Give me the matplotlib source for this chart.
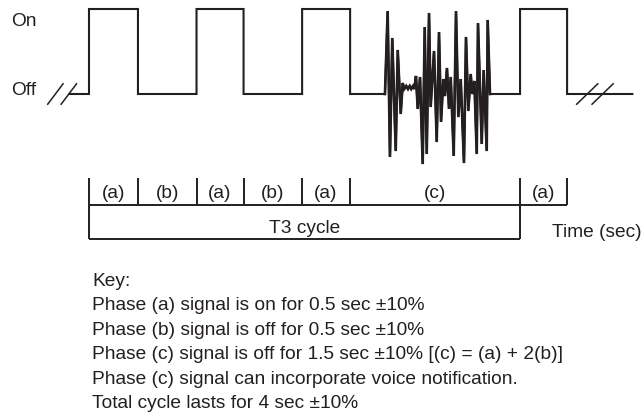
import numpy as np
import matplotlib
matplotlib.use("Agg")
import matplotlib.pyplot as plt

plt.rcParams["font.family"] = ["Liberation Sans", "DejaVu Sans"]

INK = "#231f20"

# on/off switching times of the signal (sec), alternating rise / fall
edge_times = [0.0, 0.51, 1.12, 1.61, 2.22, 2.72, 4.49, 4.98]
signal_start, signal_end = -0.2, 5.66
phase_labels = ["(a)", "(b)", "(a)", "(b)", "(a)", "(c)", "(a)"]
cycle_label = "T3 cycle"

# voice notification burst inside phase (c); level 0 = off, 1 = on
voice_t = [3.083, 3.111, 3.135, 3.159, 3.195, 3.216, 3.247, 3.268, 3.284, 3.305,
           3.323, 3.341, 3.357, 3.375, 3.389, 3.406, 3.424, 3.448, 3.476, 3.497,
           3.518, 3.542, 3.559, 3.594, 3.622, 3.646, 3.667, 3.691, 3.708, 3.729,
           3.750, 3.768, 3.799, 3.823, 3.847, 3.872, 3.906, 3.927, 3.951, 3.976,
           3.993, 4.014, 4.039, 4.052, 4.091, 4.111, 4.143, 4.153, 4.177]
voice_level = [0.0, 0.976, -0.741, 0.659, -0.671, 0.518, -0.235, 0.129, 0.059, 0.094,
               0.059, 0.094, 0.059, 0.094, 0.059, 0.212, -0.176, 0.2, -0.824, 0.788,
               -0.706, 0.953, -0.153, 0.506, -0.565, 0.729, -0.329, 0.176, -0.024, 0.306,
               -0.176, 0.2, -0.729, 0.976, -0.271, 0.176, -0.812, 0.671, -0.2, 0.235,
               0.0, 0.153, -0.706, 0.835, -0.588, 0.282, -0.671, 0.871, 0.0]

# time axis break marks
break_left = [-0.35, -0.21]
break_right = [5.19, 5.35]

key_lines = [
    "Key:",
    "Phase (a) signal is on for 0.5 sec \u00b110%",
    "Phase (b) signal is off for 0.5 sec \u00b110%",
    "Phase (c) signal is off for 1.5 sec \u00b110% [(c) = (a) + 2(b)]",
    "Phase (c) signal can incorporate voice notification.",
    "Total cycle lasts for 4 sec \u00b110%",
]

W, H = 642, 414
fig = plt.figure(figsize=(W / 100, H / 100), dpi=100)
ax = fig.add_axes([0, 0, 1, 1])
ax.set_xlim(-89 / 96, (W - 89) / 96)
ax.set_ylim((95 - H) / 85, 95 / 85)
ax.axis("off")

# step signal
ts, lv = [signal_start], [0]
level = 0
for e in edge_times:
    ts += [e, e]
    lv += [level, 1 - level]
    level = 1 - level
ts.append(signal_end)
lv.append(0)
i = int(np.searchsorted(ts, voice_t[0], side="right"))
ts = ts[:i] + voice_t + ts[i:]
lv = lv[:i] + voice_level + lv[i:]
ax.plot(ts, lv, color=INK, lw=1.5, solid_joinstyle="miter")
# burst strokes are drawn a bit heavier
ax.plot(voice_t, voice_level, color=INK, lw=1.9, solid_joinstyle="miter")

for c in break_left:
    ax.plot([c - 0.08, c + 0.08], [-0.12, 0.12], color=INK, lw=1.1)
for c in break_right:
    ax.plot([c - 0.11, c + 0.11], [-0.12, 0.12], color=INK, lw=1.1)

# phase boxes
tick_top, mid, bottom = -0.988, -1.306, -1.706
box_lw = 1.4
ax.vlines(edge_times, tick_top, mid, color=INK, lw=box_lw)
ax.vlines([edge_times[0], edge_times[6]], mid, bottom, color=INK, lw=box_lw)
ax.hlines(mid, edge_times[0], edge_times[-1], color=INK, lw=box_lw)
ax.hlines(bottom, edge_times[0], edge_times[6], color=INK, lw=box_lw)

fs = 13.8
for lab, a, b in zip(phase_labels, edge_times[:-1], edge_times[1:]):
    ax.text((a + b) / 2, -1.212, lab, ha="center", va="baseline", fontsize=fs, color=INK)
ax.text((edge_times[0] + edge_times[6]) / 2, -1.624, cycle_label, ha="center",
        va="baseline", fontsize=fs, color=INK)

fig.text(11 / W, 1 - 26 / H, "On", va="baseline", fontsize=fs, color=INK)
fig.text(11 / W, 1 - 95 / H, "Off", va="baseline", fontsize=fs, color=INK)
fig.text(552 / W, 1 - 237 / H, "Time (sec)", va="baseline", fontsize=fs, color=INK)

for k, line in enumerate(key_lines):
    fig.text(92 / W, 1 - (286 + 24.5 * k) / H, line, va="baseline", fontsize=fs, color=INK)

fig.savefig("out.png", dpi=100, facecolor="white")
